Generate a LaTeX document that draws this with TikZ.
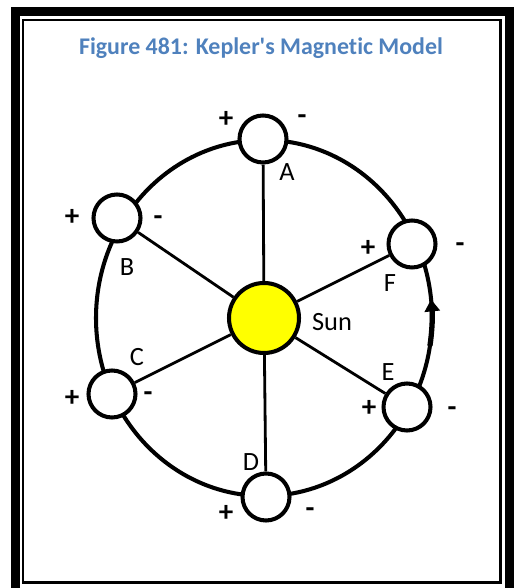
\documentclass[tikz,border=0pt]{standalone}
\usepackage{fontspec}
\setmainfont{Carlito}
\newfontfamily\capfont{Carlito}[Ligatures=NoCommon]
\usetikzlibrary{arrows.meta,positioning}
\definecolor{capblue}{RGB}{79,129,189}
\definecolor{sunyellow}{RGB}{255,255,0}
\tikzset{
  planet/.style={circle,draw,line width=2.3pt,fill=white,minimum size=0.94cm,
    inner sep=0pt},
  sunball/.style={circle,draw,line width=2.3pt,fill=sunyellow,
    minimum size=1.40cm,inner sep=0pt},
  orbit/.style={line width=2.3pt},
  spoke/.style={line width=1.6pt},
  plab/.style={font=\fontsize{15}{18}\selectfont,inner sep=0pt},
  pole/.style={font=\fontsize{16.5}{19}\selectfont\bfseries,inner sep=0pt},
  frameout/.style={line width=0.18cm},
  framein/.style={line width=0.05cm}
}

\begin{document}
\begin{tikzpicture}
\clip (0,0) rectangle (10.32,11.76);
% ---------------- frame and caption ----------------
\draw[frameout] (0.31,-0.12) rectangle (10.19,11.53);
\draw[framein] (0.46,0.11) rectangle (10.01,11.36);
\node[font=\capfont\fontsize{13.6}{16}\selectfont\bfseries,text=capblue]
  (title) at (5.22,10.80) {Figure 481: Kepler's Magnetic Model};
% ---------------- orbit with direction arrow ----------------
\coordinate (O) at (5.28,5.40);
\draw[orbit] (O) ellipse [x radius=3.36cm, y radius=3.56cm];
\draw[orbit,line width=3pt,-{Triangle[length=0.24cm,width=0.30cm]}]
  (O) ++(-9:3.36cm and 3.56cm) arc [start angle=-9, end angle=6,
  x radius=3.36cm, y radius=3.56cm];
% ---------------- sun and planets ----------------
\node[sunball] (sun) at (O) {};
\node[planet] (A) at (5.26,8.98) {};
\node[planet] (B) at (2.34,7.40) {};
\node[planet] (C) at (2.24,3.88) {};
\node[planet] (D) at (5.32,1.82) {};
\node[planet] (E) at (8.14,3.62) {};
\node[planet] (F) at (8.24,6.88) {};
\foreach \p in {A,B,C,D,E,F}
  \draw[spoke] (sun) -- (\p);
% ---------------- labels ----------------
\node[plab] (sunlab) at (6.64,5.32) {Sun};
\node[plab] (labA) at (5.74,8.32) {A};
\node[plab] (labB) at (2.54,6.42) {B};
\node[plab] (labC) at (2.74,4.62) {C};
\node[plab] (labD) at (5.02,2.52) {D};
\node[plab] (labE) at (7.76,4.32) {E};
\node[plab] (labF) at (7.80,6.10) {F};
% poles of each planet-magnet
\node[pole] (Ap) at (4.52,9.38) {+};  \node[pole] (Am) at (6.04,9.36) {-};
\node[pole] (Bp) at (1.44,7.42) {+};  \node[pole] (Bm) at (3.16,7.34) {-};
\node[pole] (Cp) at (1.44,3.80) {+};  \node[pole] (Cm) at (2.96,3.82) {-};
\node[pole] (Dp) at (4.52,1.50) {+};  \node[pole] (Dm) at (6.20,1.50) {-};
\node[pole] (Ep) at (7.38,3.60) {+};  \node[pole] (Em) at (9.04,3.52) {-};
\node[pole] (Fp) at (7.36,6.80) {+};  \node[pole] (Fm) at (9.20,6.80) {-};
\end{tikzpicture}
\end{document}
